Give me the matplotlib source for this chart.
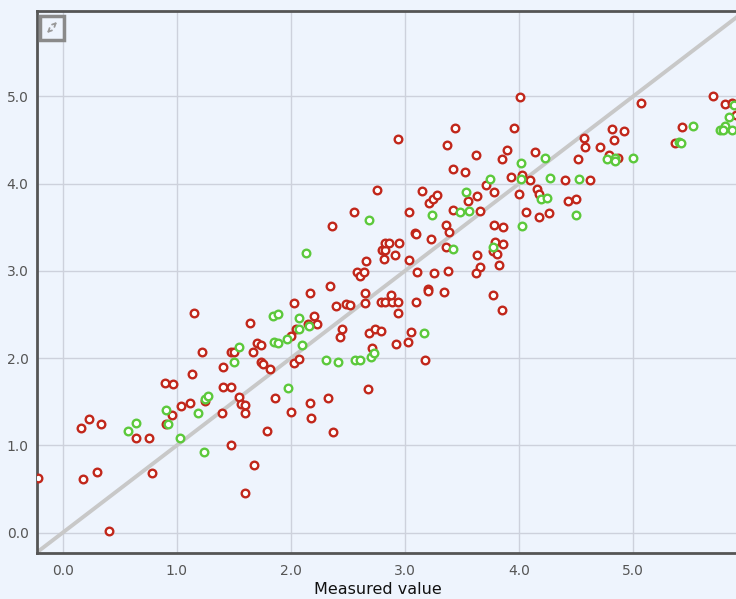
import matplotlib
matplotlib.use("Agg")
import matplotlib.pyplot as plt
from matplotlib.patches import Rectangle

# dane
red_x = [-0.22, 0.18, 0.30, 0.78, 0.41, 0.16, 0.23, 0.34, 0.64, 0.76, 0.91, 0.96, 0.90, 0.97,
         1.04, 1.12, 1.25, 1.13, 1.22, 1.15, 1.40, 1.41, 1.48, 1.41, 1.48, 1.48, 1.50, 1.55,
         1.56, 1.60, 1.60, 1.68, 1.60, 1.64, 1.67, 1.70, 1.74, 1.74, 1.76, 1.79, 1.82,
         2.03, 2.40, 2.48, 2.52, 2.65, 2.79, 2.83, 2.89, 2.94, 3.10, 2.94, 2.20, 2.23, 2.15,
         2.05, 2.00, 2.03, 2.07, 2.45, 2.43, 2.69, 2.74, 2.79, 2.71, 2.92, 3.03, 3.05, 3.18,
         2.68, 1.86, 2.00, 2.17, 2.33, 2.18, 2.37,
         3.85,
         2.17, 2.34, 2.36, 2.55, 2.76, 2.94, 2.66, 2.58, 2.61, 2.64, 2.65, 2.80, 2.83, 2.83,
         2.86, 2.82, 2.91, 2.95, 3.04, 3.04, 3.09, 3.10, 3.11, 2.88, 3.20, 3.20, 3.26, 3.38,
         3.34, 3.23, 3.36, 3.36, 3.39, 3.42, 3.21, 3.25, 3.28, 3.15, 3.37, 3.44, 3.42, 3.53,
         3.62, 3.55, 3.63, 3.66, 3.71, 3.78, 3.78, 3.77, 3.81, 3.63, 3.66, 3.62, 3.77, 3.83,
         4.01, 3.96, 3.90, 3.85, 4.14, 3.93, 4.03, 4.10, 4.00, 4.16, 4.18, 4.06, 4.18, 4.26,
         3.86, 4.43, 4.50, 4.40, 4.62, 4.52, 4.58, 4.57, 4.71, 4.82, 4.92, 4.83, 4.79, 4.87,
         5.07, 5.43, 5.37, 5.70, 5.81, 5.87, 3.79, 3.86, 5.90]
red_y = [0.63, 0.62, 0.69, 0.68, 0.02, 1.20, 1.30, 1.25, 1.09, 1.09, 1.25, 1.35, 1.72, 1.70,
         1.45, 1.49, 1.51, 1.82, 2.07, 2.52, 1.37, 1.90, 1.00, 1.67, 1.67, 2.07, 2.07, 1.55,
         1.47, 1.46, 1.37, 0.78, 0.46, 2.40, 2.07, 2.17, 2.15, 1.96, 1.93, 1.17, 1.88,
         2.63, 2.60, 2.62, 2.61, 2.63, 2.64, 2.64, 2.64, 2.64, 2.64, 2.52, 2.48, 2.39, 2.39,
         2.33, 2.26, 1.95, 1.99, 2.33, 2.24, 2.29, 2.34, 2.31, 2.12, 2.16, 2.19, 2.30, 1.98,
         1.65, 1.54, 1.38, 1.49, 1.54, 1.32, 1.15,
         2.55,
         2.75, 2.83, 3.52, 3.68, 3.93, 4.51, 3.11, 2.99, 2.94, 2.99, 2.75, 3.24, 3.24, 3.32,
         3.32, 3.14, 3.18, 3.32, 3.13, 3.68, 3.43, 3.42, 2.99, 2.73, 2.79, 2.77, 2.98, 3.00,
         2.76, 3.37, 3.28, 3.53, 3.45, 3.70, 3.78, 3.83, 3.87, 3.92, 4.44, 4.64, 4.17, 4.14,
         4.33, 3.80, 3.86, 3.69, 3.99, 3.91, 3.53, 3.23, 3.20, 3.18, 3.04, 2.98, 2.73, 3.07,
         4.99, 4.64, 4.39, 4.28, 4.36, 4.08, 4.10, 4.04, 3.88, 3.94, 3.88, 3.68, 3.62, 3.67,
         3.50, 3.80, 3.83, 4.04, 4.04, 4.28, 4.42, 4.52, 4.42, 4.63, 4.60, 4.50, 4.33, 4.30,
         4.92, 4.65, 4.47, 5.00, 4.91, 4.92, 3.33, 3.31, 4.79]

green_x = [0.57, 0.64, 0.91, 0.92, 1.03, 1.19, 1.24, 1.25, 1.27, 1.55, 1.50,
           1.84, 1.89, 2.07, 2.07, 2.16, 1.85, 1.89, 1.97, 2.10, 2.31, 2.41, 2.56, 2.61,
           2.70, 2.73, 3.17, 1.98,
           2.13, 2.69, 3.24, 3.42, 3.48, 3.56, 3.54, 3.75, 3.77,
           4.02, 4.23, 4.02, 4.27, 4.19, 4.25, 4.53, 4.50, 4.03, 4.77, 4.84, 4.84, 5.00,
           5.40, 5.42, 5.53, 5.84, 5.76, 5.81, 5.87, 5.89, 5.79]
green_y = [1.17, 1.26, 1.41, 1.25, 1.09, 1.37, 0.92, 1.53, 1.57, 2.13, 1.96,
           2.48, 2.51, 2.46, 2.33, 2.37, 2.18, 2.17, 2.22, 2.15, 1.98, 1.96, 1.98, 1.98,
           2.01, 2.06, 2.29, 1.66,
           3.21, 3.58, 3.64, 3.25, 3.68, 3.69, 3.90, 4.05, 3.28,
           4.24, 4.30, 4.05, 4.06, 3.82, 3.84, 4.05, 3.64, 3.51, 4.28, 4.30, 4.26, 4.29,
           4.48, 4.47, 4.66, 4.77, 4.62, 4.66, 4.62, 4.90, 4.62]

ticks = [0, 1, 2, 3, 4, 5]
tick_labels = ['0.0', '1.0', '2.0', '3.0', '4.0', '5.0']

W, H = 736, 599
bg = '#eef4fd'

fig = plt.figure(figsize=(W / 100, H / 100), dpi=100, facecolor=bg)
ax = fig.add_axes([37 / W, 46 / H, 710 / W, 542 / H], facecolor=bg)
ax.set_xlim(-0.225, 6.0)
ax.set_ylim(-0.233, 5.98)

ax.grid(True, color='#cdd1dc', linewidth=1)
ax.set_axisbelow(True)
ax.set_xticks(ticks, tick_labels)
ax.set_yticks(ticks, tick_labels)
ax.tick_params(length=0, labelsize=10, labelcolor='#555555')
ax.tick_params(axis='x', pad=8)
ax.tick_params(axis='y', pad=6)

for s in ['left', 'bottom', 'top']:
    ax.spines[s].set_color('#555555')
    ax.spines[s].set_linewidth(2)
ax.spines['right'].set_visible(False)

# linia y = x
ax.plot([-0.3, 6.1], [-0.3, 6.1], color='#c8c8c8', linewidth=2.8, zorder=2)

ax.scatter(red_x, red_y, s=30, facecolors='white', edgecolors='#c1271b', linewidths=1.7, zorder=3)
ax.scatter(green_x, green_y, s=30, facecolors='white', edgecolors='#5cc93c', linewidths=1.7, zorder=4)

fig.text(378 / W, 1 - 589 / H, 'Measured value', ha='center', va='center', fontsize=11.5, color='#111111')

# ikona w lewym górnym rogu
def px(x, y):
    return (x / W, 1 - y / H)

fig.patches.append(Rectangle(px(40, 40), 24 / W, 24 / H, transform=fig.transFigure,
                             facecolor='none', edgecolor='#8a8a8a', linewidth=2.5))
ax.annotate('', xy=px(59, 20), xytext=px(53, 26), xycoords='figure fraction',
            textcoords='figure fraction',
            arrowprops=dict(arrowstyle='->', color='#9a9a9a', lw=1.3, mutation_scale=6))
ax.annotate('', xy=px(45, 35), xytext=px(51, 29), xycoords='figure fraction',
            textcoords='figure fraction',
            arrowprops=dict(arrowstyle='->', color='#9a9a9a', lw=1.3, mutation_scale=6))

plt.savefig('out.png', dpi=100, facecolor=bg)
